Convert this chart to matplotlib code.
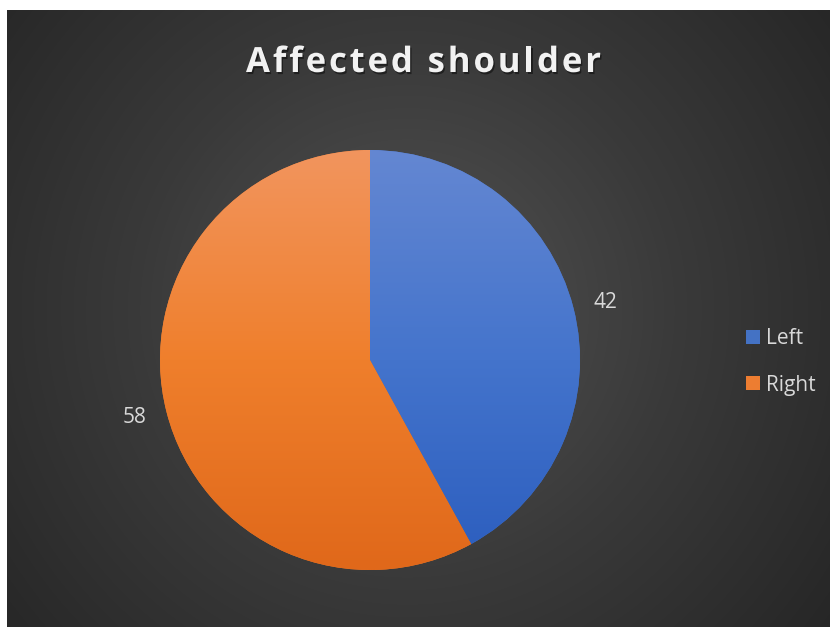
import numpy as np
import matplotlib
matplotlib.use("Agg")
import matplotlib.pyplot as plt
import matplotlib.patheffects as pe
from matplotlib.colors import LinearSegmentedColormap

# data
categories = ["Left", "Right"]
values = [42, 58]
title = "Affected shoulder"

W, H = 832, 627
fig = plt.figure(figsize=(W / 100, H / 100), dpi=100, facecolor="white")

# dark background panel with radial glow
bg = fig.add_axes([7 / W, 0, 823 / W, 617 / H])
bg.set_axis_off()
yy, xx = np.mgrid[0:617, 0:823]
r = np.hypot(xx - 400, yy - 300) / np.hypot(420, 330)
bg_cmap = LinearSegmentedColormap.from_list("bg", ["#535353", "#3a3a3a", "#262626"])
bg.imshow(np.clip(r, 0, 1), cmap=bg_cmap, vmin=0, vmax=1, aspect="auto",
          interpolation="bilinear")

# pie
cx, cy, rad = 370, 360, 210
ax = fig.add_axes([(cx - rad) / W, (H - cy - rad) / H, 2 * rad / W, 2 * rad / H])
ax.patch.set_visible(False)
wedges, texts = ax.pie(values, labels=[str(v) for v in values], startangle=90,
                       counterclock=False, labeldistance=1.10,
                       colors=["#4472C4", "#ED7D31"],
                       textprops=dict(color="#d9d9d9", fontsize=15, family="Open Sans"))
ax.set_xlim(-1, 1)
ax.set_ylim(-1, 1)

grads = [["#6487D2", "#4474CC", "#2B5DBE"], ["#F2955E", "#EF7F2C", "#E0681A"]]
g = np.linspace(0, 1, 256)[:, None] * np.ones((1, 4))
for w, cols in zip(wedges, grads):
    cm = LinearSegmentedColormap.from_list("g", cols)
    im = ax.imshow(g, cmap=cm, extent=[-1, 1, -1, 1], origin="upper",
                   aspect="auto", interpolation="bilinear", zorder=2)
    im.set_clip_path(w)

# legend
fig.legend(wedges, categories, loc="center left",
           bbox_to_anchor=(727 / W, 1 - 362 / H), frameon=False,
           handlelength=0.68, handleheight=0.68, handletextpad=0.3,
           labelspacing=1.2,
           prop=dict(family="Open Sans", size=15), labelcolor="#d9d9d9")

# title with letter spacing
tax = fig.add_axes([0, 0, 1, 1])
tax.set_axis_off()
tax.set_xlim(0, W)
tax.set_ylim(H, 0)
fig.canvas.draw()
renderer = fig.canvas.get_renderer()
tprops = dict(family="Open Sans", weight="bold", size=25, color="#f2f2f2")


def width_of(s):
    if not s:
        return 0
    t = tax.text(0, 0, s.replace(" ", "\u00a0"), **tprops)
    e = t.get_window_extent(renderer).width
    t.remove()
    return e


full = width_of(title)
sp = (355 - full) / (len(title) - 1)
x0 = 246
for i, ch in enumerate(title):
    if ch == " ":
        continue
    x = x0 + width_of(title[:i]) + i * sp
    tax.text(x, 72, ch, ha="left", va="baseline", **tprops,
             path_effects=[pe.withSimplePatchShadow(offset=(1, -1.5),
                                                    shadow_rgbFace="black", alpha=0.45)])

fig.savefig("out.png", dpi=100, facecolor="white")
